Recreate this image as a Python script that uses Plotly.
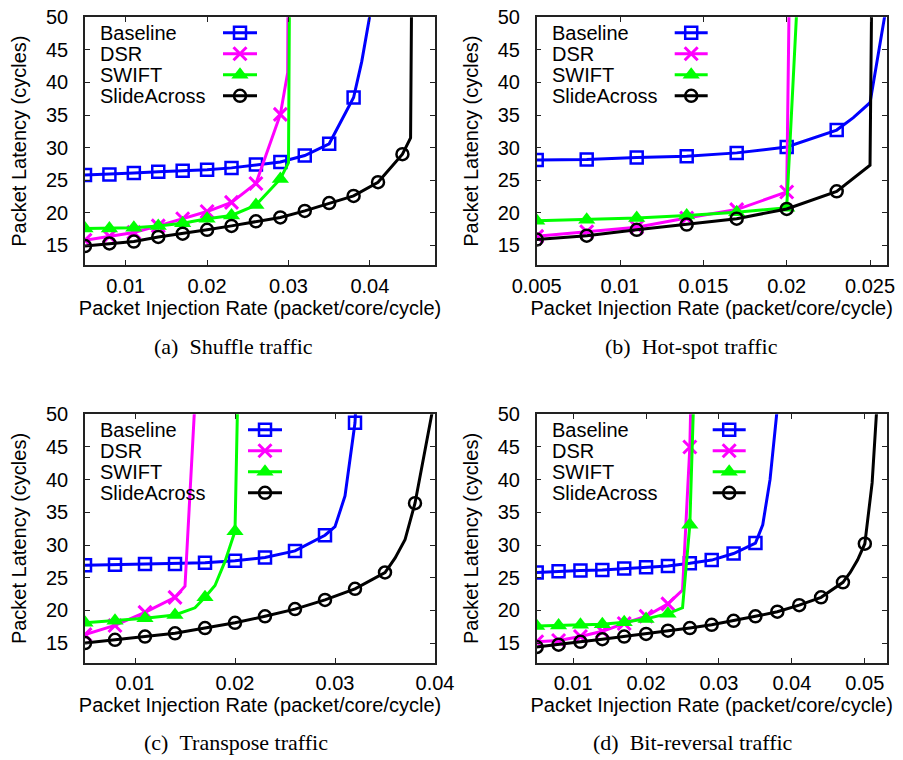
import plotly.graph_objects as go

# ---------------- data ----------------
SERIES = ["Baseline", "DSR", "SWIFT", "SlideAcross"]

# (a) Shuffle traffic
A_X = [0.005, 0.008, 0.011, 0.014, 0.017, 0.020, 0.023, 0.026, 0.029, 0.032, 0.035, 0.038, 0.041, 0.044]
A_BASELINE = [25.8, 25.9, 26.1, 26.3, 26.45, 26.6, 26.9, 27.4, 27.8, 28.8, 30.6, 37.7]
A_DSR = [15.8, 16.4, 17.0, 18.0, 19.1, 20.2, 21.6, 24.5, 35.1]
A_SWIFT = [17.6, 17.6, 17.7, 18.0, 18.4, 19.1, 19.6, 21.2, 25.2]
A_SLIDE = [14.9, 15.3, 15.6, 16.3, 16.8, 17.4, 18.0, 18.7, 19.3, 20.3, 21.5, 22.6, 24.7, 29.0]
# unmarked curve points (saturation region)
A_BASELINE_EXTRA = [(0.039, 43.2), (0.040, 50.3), (0.041, 62.0)]
A_DSR_EXTRA = [(0.0299, 41.5), (0.0300, 70.0)]
A_SWIFT_EXTRA = [(0.0300, 27.7), (0.0302, 70.0)]
A_SLIDE_EXTRA = [(0.045, 31.5), (0.0454, 100.0)]

# (b) Hot-spot traffic
B_X = [0.005, 0.008, 0.011, 0.014, 0.017, 0.020, 0.023]
B_BASELINE = [28.1, 28.2, 28.5, 28.7, 29.2, 30.1, 32.7]
B_DSR = [16.4, 17.1, 17.8, 19.2, 20.5, 23.2]
B_SWIFT = [18.8, 18.95, 19.2, 19.6, 20.1, 20.8]
B_SLIDE = [15.9, 16.5, 17.4, 18.2, 19.1, 20.6, 23.3]
B_BASELINE_EXTRA = [(0.024, 34.6), (0.025, 36.9), (0.026, 52.0)]
B_DSR_EXTRA = [(0.02016, 55.0)]
B_SWIFT_EXTRA = [(0.02062, 52.0)]
B_SLIDE_EXTRA = [(0.025, 27.3), (0.0252, 80.0)]

# (c) Transpose traffic
C_X = [0.005, 0.008, 0.011, 0.014, 0.017, 0.020, 0.023, 0.026, 0.029, 0.032, 0.035, 0.038]
C_BASELINE = [26.9, 27.0, 27.1, 27.1, 27.3, 27.6, 28.1, 29.1, 31.5, 48.7]
C_DSR = [16.3, 17.7, 19.7, 22.0]
C_SWIFT = [18.1, 18.4, 18.8, 19.3, 22.0, 32.1]
C_SLIDE = [15.0, 15.5, 16.0, 16.5, 17.3, 18.1, 19.1, 20.2, 21.6, 23.3, 25.8, 36.4]
C_BASELINE_EXTRA = [(0.030, 32.8), (0.031, 37.5), (0.0322, 55.0)]
C_DSR_EXTRA = [(0.015, 23.7), (0.0161, 55.0)]
C_SWIFT_EXTRA = [(0.016, 20.4), (0.018, 23.8), (0.019, 27.5), (0.0203, 55.0)]
C_SLIDE_EXTRA = [(0.036, 28.0), (0.037, 30.8), (0.039, 44.5), (0.0398, 51.0)]

# (d) Bit-reversal traffic
D_X = [0.005, 0.008, 0.011, 0.014, 0.017, 0.020, 0.023, 0.026, 0.029, 0.032,
       0.035, 0.038, 0.041, 0.044, 0.047, 0.050]
D_BASELINE = [25.8, 26.0, 26.1, 26.2, 26.4, 26.6, 26.8, 27.2, 27.7, 28.7, 30.3]
D_DSR = [15.2, 15.4, 16.0, 16.8, 18.0, 19.1, 21.0, 45.0]
D_SWIFT = [17.6, 17.7, 17.8, 17.9, 18.2, 18.7, 19.5, 33.1]
D_SLIDE = [14.4, 14.75, 15.2, 15.6, 16.0, 16.4, 16.9, 17.3, 17.8, 18.4, 19.1, 19.8,
           20.8, 22.0, 24.3, 30.2]
D_BASELINE_EXTRA = [(0.036, 33.1), (0.037, 40.0), (0.038, 51.0)]
D_DSR_EXTRA = [(0.025, 23.1), (0.0262, 55.0)]
D_SWIFT_EXTRA = [(0.025, 20.4), (0.0266, 55.0)]
D_SLIDE_EXTRA = [(0.048, 25.8), (0.049, 27.7), (0.051, 39.5), (0.0517, 52.0)]

# axis tick labels
A_TICKS = ["0.01", "0.02", "0.03", "0.04"]
B_TICKS = ["0.005", "0.01", "0.015", "0.02", "0.025"]
C_TICKS = ["0.01", "0.02", "0.03", "0.04"]
D_TICKS = ["0.01", "0.02", "0.03", "0.04", "0.05"]
Y_TICKS = [15, 20, 25, 30, 35, 40, 45, 50]

CAPTIONS = ["(a)\u2002Shuffle traffic", "(b)\u2002Hot-spot traffic",
            "(c)\u2002Transpose traffic", "(d)\u2002Bit-reversal traffic"]

# ---------------- layout / style ----------------
W, H = 903, 760
FONT = "Liberation Sans, Arial, Helvetica, sans-serif"
SERIF = "Liberation Serif, DejaVu Serif, serif"

STYLE = {
    "Baseline": dict(color="#0000ff", symbol="square-open", size=12, lw=2.5),
    "DSR": dict(color="#ff00ff", symbol="x-thin-open", size=13, lw=3),
    "SWIFT": dict(color="#00ff00", symbol="triangle-up", size=15, lw=0),
    "SlideAcross": dict(color="#000000", symbol="circle-open", size=12, lw=2.5),
}

# panel plot areas in pixels: (left, right, top, bottom)
PANELS = [
    dict(box=(85, 435, 17.3, 265.0), xr=[0.005, 0.048], tv=[0.01, 0.02, 0.03, 0.04], tt=A_TICKS,
         x=A_X, ys=[A_BASELINE, A_DSR, A_SWIFT, A_SLIDE],
         ex=[A_BASELINE_EXTRA, A_DSR_EXTRA, A_SWIFT_EXTRA, A_SLIDE_EXTRA],
         key=(13, 138, 172), cap=(233, 347)),
    dict(box=(536.7, 886.7, 17.3, 265.0), xr=[0.005, 0.026], tv=[0.005, 0.01, 0.015, 0.02, 0.025], tt=B_TICKS,
         x=B_X, ys=[B_BASELINE, B_DSR, B_SWIFT, B_SLIDE],
         ex=[B_BASELINE_EXTRA, B_DSR_EXTRA, B_SWIFT_EXTRA, B_SLIDE_EXTRA],
         key=(13, 138, 171), cap=(691, 347)),
    dict(box=(85, 435, 414.3, 662.7), xr=[0.005, 0.040], tv=[0.01, 0.02, 0.03, 0.04], tt=C_TICKS,
         x=C_X, ys=[C_BASELINE, C_DSR, C_SWIFT, C_SLIDE],
         ex=[C_BASELINE_EXTRA, C_DSR_EXTRA, C_SWIFT_EXTRA, C_SLIDE_EXTRA],
         key=(13, 163, 197), cap=(236, 742)),
    dict(box=(536.7, 886.7, 414.3, 662.7), xr=[0.005, 0.053], tv=[0.01, 0.02, 0.03, 0.04, 0.05], tt=D_TICKS,
         x=D_X, ys=[D_BASELINE, D_DSR, D_SWIFT, D_SLIDE],
         ex=[D_BASELINE_EXTRA, D_DSR_EXTRA, D_SWIFT_EXTRA, D_SLIDE_EXTRA],
         key=(13, 176, 209), cap=(693, 742)),
]
KEY_ROW0, KEY_DY = 15.5, 21

fig = go.Figure()
layout = dict(width=W, height=H, margin=dict(l=0, r=0, t=0, b=0, autoexpand=False),
              paper_bgcolor="white", plot_bgcolor="rgba(0,0,0,0)", showlegend=False,
              font=dict(family=FONT, size=20, color="black"))
annotations = []

for i, p in enumerate(PANELS):
    n = i + 1
    sfx = str(n) if n > 1 else ""
    xa, ya = "x" + sfx, "y" + sfx
    ko, ka = f"x{n + 4}", f"y{n + 4}"
    l, r, t, b = p["box"]
    xdom = [l / W, r / W]
    ydom = [1 - b / H, 1 - t / H]
    axis_common = dict(showline=True, linecolor="#222", linewidth=1.5, mirror="ticks",
                       ticks="inside", ticklen=5, tickwidth=1.2, tickcolor="#222",
                       showgrid=False, zeroline=False, automargin=False,
                       ticklabeloverflow="allow",
                       tickfont=dict(family=FONT, size=20, color="black"))
    layout["xaxis" + sfx] = dict(
        domain=xdom, anchor=ya, range=p["xr"], tickvals=p["tv"], ticktext=p["tt"],
        ticklabelstandoff=2,
        title=dict(text="Packet Injection Rate (packet/core/cycle)", standoff=2,
                   font=dict(family=FONT, size=20, color="black")),
        **axis_common)
    layout["yaxis" + sfx] = dict(
        domain=ydom, anchor=xa, range=[12, 50], tickvals=Y_TICKS,
        ticklabelstandoff=11,
        title=dict(text="Packet Latency (cycles)", standoff=14,
                   font=dict(family=FONT, size=20, color="black")),
        **axis_common)
    # overlay pixel axes for the key (gnuplot style: text left, sample right)
    layout[f"xaxis{n + 4}"] = dict(overlaying=xa, anchor=ka, range=[0, r - l], visible=False,
                                   fixedrange=True, automargin=False)
    layout[f"yaxis{n + 4}"] = dict(overlaying=ya, anchor=ko, range=[b - t, 0], visible=False,
                                   fixedrange=True, automargin=False)

    for j, name in enumerate(SERIES):
        s = STYLE[name]
        ys = p["ys"][j]
        xs = p["x"][:len(ys)]
        pts = sorted(list(zip(xs, ys)) + list(p["ex"][j]))
        fig.add_trace(go.Scatter(x=[q[0] for q in pts], y=[q[1] for q in pts], mode="lines",
                                 line=dict(color=s["color"], width=3), xaxis=xa, yaxis=ya,
                                 hoverinfo="skip"))
        fig.add_trace(go.Scatter(x=xs, y=ys, mode="markers", name=name,
                                 marker=dict(symbol=s["symbol"], size=s["size"], color=s["color"],
                                             line=dict(color=s["color"], width=s["lw"])),
                                 cliponaxis=True, xaxis=xa, yaxis=ya))
        # key entry
        ky = KEY_ROW0 + KEY_DY * j
        kx0, kx1 = p["key"][1], p["key"][2]
        fig.add_trace(go.Scatter(x=[kx0, kx1], y=[ky, ky], mode="lines",
                                 line=dict(color=s["color"], width=3), xaxis=ko, yaxis=ka,
                                 hoverinfo="skip"))
        fig.add_trace(go.Scatter(x=[(kx0 + kx1) / 2], y=[ky], mode="markers",
                                 marker=dict(symbol=s["symbol"], size=s["size"], color=s["color"],
                                             line=dict(color=s["color"], width=s["lw"])),
                                 xaxis=ko, yaxis=ka, hoverinfo="skip"))
        annotations.append(dict(xref=ko, yref=ka, x=p["key"][0], y=ky, text=name, showarrow=False,
                                xanchor="left", yanchor="middle",
                                font=dict(family=FONT, size=20, color="black")))
    cx, cy = p["cap"]
    annotations.append(dict(xref="paper", yref="paper", x=cx / W, y=1 - cy / H, text=CAPTIONS[i],
                            showarrow=False, xanchor="center", yanchor="middle",
                            font=dict(family=SERIF, size=22, color="black")))

layout["annotations"] = annotations
fig.update_layout(**layout)
# the figure is exactly window-sized: drop the page's default body margin
fig.write_html("out.html", config={"displayModeBar": False},
               post_script="document.body.style.margin='0px';")
